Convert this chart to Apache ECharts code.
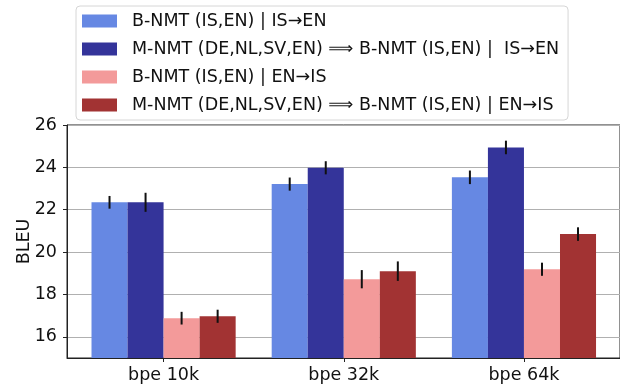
<!DOCTYPE html>
<html>
<head>
<meta charset="utf-8">
<script src="https://cdn.jsdelivr.net/npm/echarts@6/dist/echarts.min.js"></script>
<style>
html,body{margin:0;padding:0;background:#fff;}
#chart{width:620px;height:385px;}
</style>
</head>
<body>
<div id="chart"></div>
<script>
const categories = ['bpe 10k', 'bpe 32k', 'bpe 64k'];
const seriesNames = [
  'B-NMT (IS,EN) | IS→EN',
  'M-NMT (DE,NL,SV,EN) ⟹ B-NMT (IS,EN) |  IS→EN',
  'B-NMT (IS,EN) | EN→IS',
  'M-NMT (DE,NL,SV,EN) ⟹ B-NMT (IS,EN) | EN→IS'
];
const bnmtIsEn = [22.35, 23.21, 23.53];
const mnmtIsEn = [22.35, 23.98, 24.94];
const bnmtEnIs = [16.88, 18.72, 19.19];
const mnmtEnIs = [16.97, 19.10, 20.85];
const errBnmtIsEn = [0.30, 0.31, 0.32];
const errMnmtIsEn = [0.45, 0.31, 0.32];
const errBnmtEnIs = [0.30, 0.43, 0.31];
const errMnmtEnIs = [0.31, 0.46, 0.32];
const yTickValues = [16, 18, 20, 22, 24, 26];
const xTickValues = [0, 1, 2];

const colors = ['#6688e3', '#34349a', '#f39a9a', '#a23333'];
const values = [bnmtIsEn, mnmtIsEn, bnmtEnIs, mnmtEnIs];
const errors = [errBnmtIsEn, errMnmtIsEn, errBnmtEnIs, errMnmtEnIs];

const FONT = 'DejaVu Sans';
const FS = 17.5;
const gridLeft = 67, gridRight = 0, gridTop = 125, gridHeight = 233;
const xMin = -0.536, xMax = 2.533;
const unitPx = (620 - gridLeft - gridRight) / (xMax - xMin);
const barW = 0.2 * unitPx;

const chart = echarts.init(document.getElementById('chart'), null, {renderer: 'canvas'});

const series = [];
values.forEach((vals, si) => {
  series.push({
    name: seriesNames[si],
    type: 'bar',
    barWidth: barW,
    barGap: '0%',
    itemStyle: {color: colors[si]},
    data: vals.map((v, i) => [i, v]),
    z: 2
  });
});
values.forEach((vals, si) => {
  series.push({
    type: 'custom',
    name: 'err' + si,
    data: vals.map((v, i) => [i, v, errors[si][i]]),
    z: 5,
    renderItem: function (params, api) {
      const x = api.value(0), v = api.value(1), e = api.value(2);
      const lo = api.coord([x, v - e]);
      const hi = api.coord([x, v + e]);
      const dx = (si - 1.5) * barW;
      return {
        type: 'line',
        shape: {x1: lo[0] + dx, y1: lo[1], x2: hi[0] + dx, y2: hi[1]},
        style: {stroke: '#111', lineWidth: 2}
      };
    }
  });
});

chart.setOption({
  animation: false,
  backgroundColor: '#fff',
  textStyle: {fontFamily: FONT},
  grid: {
    left: gridLeft, right: gridRight, top: gridTop, height: gridHeight,
    outerBoundsMode: 'none', containLabel: false,
    show: true, borderColor: '#222', borderWidth: 1, backgroundColor: 'transparent'
  },
  legend: {
    data: seriesNames,
    orient: 'vertical',
    left: 76, top: 6,
    itemWidth: 35, itemHeight: 13, itemGap: 10,
    icon: 'rect',
    padding: [6, 9, 6, 6],
    backgroundColor: '#fff',
    borderColor: '#d6d6d6', borderWidth: 1, borderRadius: 4,
    selectedMode: false,
    textStyle: {fontFamily: FONT, fontSize: FS, color: '#111', padding: [0, 0, 0, 10]}
  },
  xAxis: {
    type: 'value',
    min: xMin, max: xMax,
    splitLine: {show: false},
    axisLine: {show: true, onZero: false, lineStyle: {color: '#222', width: 1}},
    axisTick: {show: true, length: 4, lineStyle: {color: '#222'}, customValues: xTickValues},
    axisLabel: {
      customValues: xTickValues,
      margin: 8, fontSize: FS, color: '#111', fontFamily: FONT,
      formatter: v => categories[Math.round(v)] || ''
    }
  },
  yAxis: {
    type: 'value',
    min: 15, max: 26,
    name: 'BLEU',
    nameLocation: 'middle',
    nameGap: 34,
    nameMoveOverlap: false,
    nameTextStyle: {fontSize: FS, color: '#111', fontFamily: FONT},
    axisLine: {show: true, onZero: false, lineStyle: {color: '#222', width: 1}},
    axisTick: {show: true, length: 4, lineStyle: {color: '#222'}, customValues: yTickValues},
    axisLabel: {customValues: yTickValues, margin: 10, fontSize: FS, color: '#111', fontFamily: FONT},
    splitLine: {show: true, lineStyle: {color: '#b0b0b0', width: 1}}
  },
  series: series
});
</script>
</body>
</html>
